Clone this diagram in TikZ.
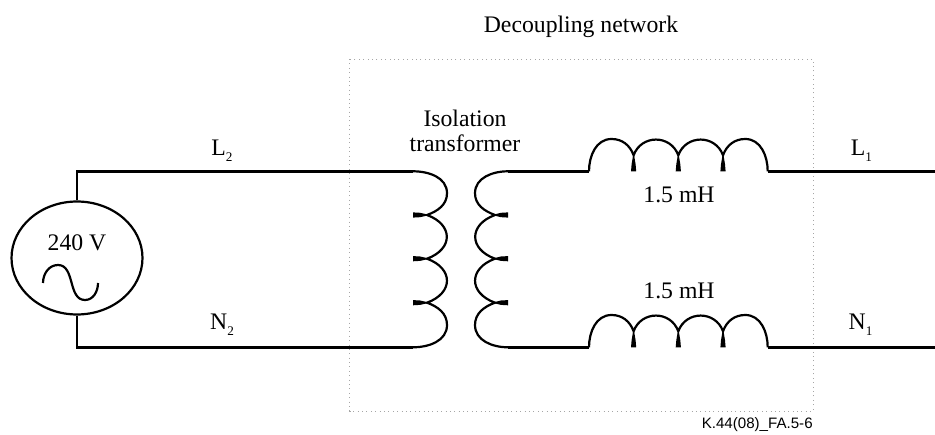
\documentclass[tikz,border=0pt]{standalone}
\usepackage{fontspec}
\setmainfont{Liberation Serif}
\setsansfont{Liberation Sans}
\usetikzlibrary{shapes.geometric}
\newcommand{\linesub}[1]{\raisebox{-3.4pt}{\fontsize{7.5}{8}\selectfont #1}}
\tikzset{
    wire/.style={line width=1.7pt},
    coilline/.style={line width=1.25pt},
    label/.style={anchor=base,inner sep=0pt,font=\fontsize{13.5}{14.2}\selectfont},
    networkbox/.style={gray!70,line width=0.5pt,dotted},
}

\begin{document}
\begin{tikzpicture}[x=0.02cm,y=0.02cm]
        \useasboundingbox (0,0) rectangle (935,435);

        % Decoupling network
        \draw[networkbox] (349.5,376) rectangle (813,24);
        \node[label] (title) at (581,402) {Decoupling network};

        % Source
        \node[ellipse,draw,coilline,minimum width=2.62cm,minimum height=2.26cm,inner sep=0pt] (source) at (77,177) {};
        \node[label] (voltage) at (77,184.5) {240 V};
        \draw[coilline] (43,152) to [out=90,in=180] (58,170) to [out=0,in=180] (85,135) to [out=0,in=-90] (98,152);

        % End points of the windings and of the line
        \coordinate (primtop) at (413,263.7);
        \coordinate (primbot) at (413,87.7);
        \coordinate (sectop) at (508,263.7);
        \coordinate (secbot) at (508,87.7);
        \coordinate (ltop) at (589,263.7);
        \coordinate (lbot) at (589,87.7);
        \coordinate (ltopend) at (767.7,263.7);
        \coordinate (lbotend) at (767.7,87.7);
        \coordinate (outtop) at (935,263.7);
        \coordinate (outbot) at (935,87.7);

        % Wires
        \draw[wire] (source.north) |- (primtop);
        \draw[wire] (source.south) |- (primbot);
        \draw[wire] (sectop) -- (ltop);
        \draw[wire] (secbot) -- (lbot);
        \draw[wire] (ltopend) -- (outtop);
        \draw[wire] (lbotend) -- (outbot);

        % Isolation transformer
        \draw[coilline] (primtop) to [out=0,in=90] (447,241.8) to [out=-90,in=20] (427,220)
            to [out=-20,in=20,looseness=1.65] (427,176.3)
            to [out=-20,in=20,looseness=1.65] (427,132.3)
            to [out=-20,in=90] (447,110) to [out=-90,in=0] (primbot);
        \draw[coilline] (sectop) to [out=180,in=90] (475,241.8) to [out=-90,in=160] (495,220)
            to [out=200,in=160,looseness=1.65] (495,176.3)
            to [out=200,in=160,looseness=1.65] (495,132.3)
            to [out=200,in=90] (475,110) to [out=-90,in=180] (secbot);
        \foreach \y in {220,176.3,132.3} {
            \fill (413,\y+2.6) -- (420,\y+2.2) -- (430,\y) -- (420,\y-2.2) -- (413,\y-2.6) -- cycle;
            \fill (508,\y+2.6) -- (501,\y+2.2) -- (492,\y) -- (501,\y-2.2) -- (508,\y-2.6) -- cycle;
        }
        \node[label,align=center] (isolation) at (465,308) {Isolation};
        \node[label,align=center] (transformer) at (465,283) {transformer};

        % Inductors
        \foreach \y/\s in {263.7/ltop,87.7/lbot} {
            \draw[coilline] (\s) to [out=90,in=180] (611.5,\y+32.3) to [out=0,in=110] (633.6,\y+16)
                to [out=70,in=110,looseness=1.28] (678.3,\y+16)
                to [out=70,in=110,looseness=1.28] (723,\y+16)
                to [out=70,in=180] (745.3,\y+32.3) to [out=0,in=90] (767.7,\y);
            \foreach \t in {633.6,678.3,723} {
                \fill (\t-2.6,\y) -- (\t-2,\y+7) -- (\t,\y+19) -- (\t+2,\y+7) -- (\t+2.6,\y) -- cycle;
            }
        }
        \node[label] (upperind) at (679,232) {1.5 mH};
        \node[label] (lowerind) at (679,136) {1.5 mH};

        % Line labels
        \node[label] (ltwo) at (222,279) {L\linesub{2}};
        \node[label] (ntwo) at (222,105) {N\linesub{2}};
        \node[label] (lone) at (861.5,279) {L\linesub{1}};
        \node[label] (none) at (860.5,105) {N\linesub{1}};

        \node[anchor=base east,inner sep=0pt,font=\sffamily\fontsize{8.6}{10}\selectfont] (figref) at (813,6.5) {K.44(08)\_FA.5-6};
    \end{tikzpicture}
\end{document}
